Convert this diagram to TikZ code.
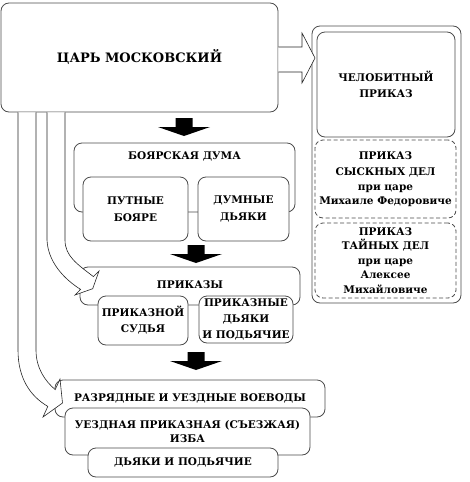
\documentclass[tikz,border=0pt]{standalone}
\usepackage{fontspec}
\newfontfamily\lab{DejaVu Serif}
\begin{document}
\begin{tikzpicture}[x=1pt,y=-1pt,
    box/.style={draw=black!70, line width=0.8pt, rounded corners=8pt, fill=white,
        inner sep=0pt, align=center, font=\lab\bfseries\fontsize{10.5}{16}\selectfont},
    dashbox/.style={box, dash pattern=on 4pt off 2.5pt, font=\lab\bfseries\fontsize{10.5}{14.5}\selectfont},
    labtext/.style={anchor=north, inner sep=0pt, font=\lab\bfseries\fontsize{10.5}{14}\selectfont},
    hollow/.style={draw=black!85, line width=0.6pt, fill=white}]
\useasboundingbox (0,0) rectangle (469,482);
\node[box, minimum width=277pt, minimum height=109pt, font=\lab\bfseries\fontsize{13}{16}\selectfont]
    (tsar) at (139.5,57.5) {ЦАРЬ МОСКОВСКИЙ};
% right column
\node[box, minimum width=149pt, minimum height=277pt] (grp) at (386.5,164.5) {};
\node[box, minimum width=138pt, minimum height=105pt] (chelob) at (386,84.5) {ЧЕЛОБИТНЫЙ\\ПРИКАЗ};
\node[dashbox, minimum width=141pt, minimum height=78pt] (sysk) at (385.5,179)
    {ПРИКАЗ\\[2pt]СЫСКНЫХ ДЕЛ\\при царе\\Михаиле Федоровиче};
\node[dashbox, minimum width=141pt, minimum height=75pt] (tayn) at (385.5,260.5)
    {ПРИКАЗ\\ТАЙНЫХ ДЕЛ\\при царе\\Алексее\\Михайловиче};
% duma
\node[box, minimum width=221pt, minimum height=69pt,
    label={[labtext, yshift=-9pt]north:БОЯРСКАЯ ДУМА}] (duma) at (184.5,177.5) {};
\node[box, minimum width=105pt, minimum height=64pt, font=\lab\bfseries\fontsize{10.5}{17}\selectfont]
    (putn) at (135.5,209) {ПУТНЫЕ\\БОЯРЕ};
\node[box, minimum width=91pt, minimum height=64pt, font=\lab\bfseries\fontsize{10.5}{17}\selectfont]
    (dumn) at (243.5,209) {ДУМНЫЕ\\ДЬЯКИ};
% prikazy
\node[box, minimum width=220pt, minimum height=38pt,
    label={[labtext, yshift=-14pt]north:ПРИКАЗЫ}] (prikazy) at (190,286) {};
\node[box, minimum width=90pt, minimum height=49pt] (sudya) at (143,320.5) {ПРИКАЗНОЙ\\СУДЬЯ};
\node[box, minimum width=94pt, minimum height=47pt] (pdyaki) at (246,319.5)
    {ПРИКАЗНЫЕ\\ДЬЯКИ\\И ПОДЬЯЧИЕ};
% voevody
\node[box, minimum width=270pt, minimum height=37pt] (razr) at (190,398.5)
    {РАЗРЯДНЫЕ И УЕЗДНЫЕ ВОЕВОДЫ};
\node[box, minimum width=245pt, minimum height=47pt, font=\lab\bfseries\fontsize{10.5}{13.5}\selectfont]
    (uezd) at (187.5,431.5) {УЕЗДНАЯ ПРИКАЗНАЯ (СЪЕЗЖАЯ)\\ИЗБА};
\node[box, minimum width=190pt, minimum height=29pt] (dyaki) at (183,462.5) {ДЬЯКИ И ПОДЬЯЧИЕ};
% hollow arrows
\draw[hollow] ([yshift=10.5pt]tsar.east) -- (302,47) -- (302,33) -- (315,58) -- (302,83)
    -- (302,72) -- ([yshift=-14.5pt]tsar.east);
\draw[hollow] (47,0 |- tsar.south) -- (47,240) .. controls (48,262) and (64,279) .. (80.6,289.4)
    -- (75,295) -- (92.7,288.7) -- (99,271) -- (93.4,276.6) .. controls (77,264) and (65,256) .. (65,240)
    -- (65,0 |- tsar.south);
\draw[hollow] (18,0 |- tsar.south) -- (18,350) .. controls (18,378) and (30,396) .. (47.8,406.4)
    -- (43,417) -- (62.5,403) -- (60,379) -- (55.2,389.6) .. controls (45,381) and (36,368) .. (36,350)
    -- (36,0 |- tsar.south);
% black arrows
\foreach \ax/\ay in {184/118, 196/245, 196/352}
    \fill (\ax-8.5,\ay) -- (\ax+8.5,\ay) -- (\ax+8.5,\ay+9) -- (\ax+26,\ay+9) -- (\ax,\ay+18)
        -- (\ax-26,\ay+9) -- (\ax-8.5,\ay+9) -- cycle;
\end{tikzpicture}
\end{document}
